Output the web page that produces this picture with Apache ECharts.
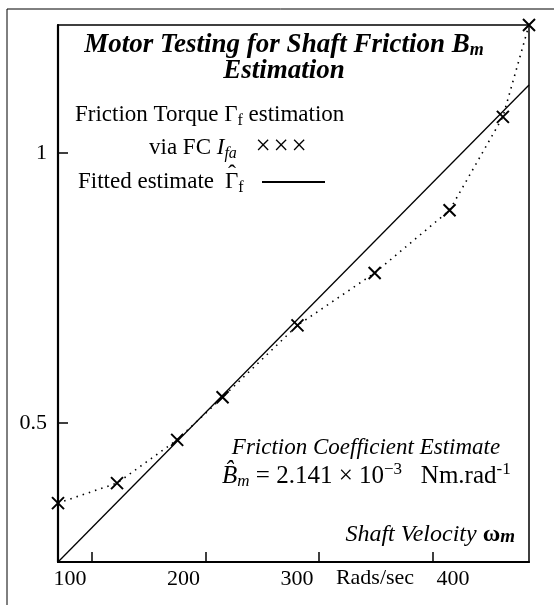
<!DOCTYPE html>
<html><head><meta charset="utf-8">
<script src="https://cdn.jsdelivr.net/npm/echarts@6/dist/echarts.min.js"></script>
<style>html,body{margin:0;padding:0;background:#fff}#c{width:554px;height:605px}</style>
</head><body><div id="c"></div>
<script>
// Shaft velocity (rad/s) and friction torque estimates (Nm)
const velocity = [70, 122, 175, 215, 281, 349, 415, 462, 485];
const frictionTorque = [0.352, 0.389, 0.469, 0.548, 0.681, 0.778, 0.894, 1.067, 1.237];
// Fitted line endpoints
const fitVelocity = [70, 485];
const fitTorque = [0.243, 1.126];
const xTicks = [100, 200, 300, 400];
const yTicks = [0.5, 1];

const F = 'Liberation Serif';
const chart = echarts.init(document.getElementById('c'), null, {renderer: 'canvas'});

function txt(x, y, text, rich, align, size, extra) {
  return {
    type: 'text', x: x, y: y, z: 100,
    style: Object.assign({text: text, rich: rich || undefined, align: align || 'left', verticalAlign: 'middle',
      fontFamily: F, fontSize: size || 23, fill: '#000'}, extra || {})
  };
}
const sub = o => Object.assign({fontFamily: F, fontSize: 16, padding: [11, 0, 0, 0]}, o || {});
const sup = o => Object.assign({fontFamily: F, fontSize: 16, padding: [0, 0, 13, 0]}, o || {});

chart.setOption({
  animation: false,
  grid: {left: 58, top: 25, right: 25, bottom: 43, show: true, borderColor: '#000', borderWidth: 1.5, backgroundColor: 'transparent'},
  xAxis: {
    type: 'value', min: 70, max: 485,
    axisLine: {lineStyle: {color: '#000', width: 2.2}},
    axisTick: {inside: true, length: 10, customValues: xTicks, lineStyle: {color: '#000', width: 1.5}},
    splitLine: {show: false},
    axisLabel: {
      customValues: xTicks, margin: 6, fontFamily: F, fontSize: 22, color: '#000',
      formatter: v => v === 400 ? '{r|' + v + '}' : '{l|' + v + '}',
      rich: {l: {fontFamily: F, fontSize: 22, padding: [0, 44, 0, 0]}, r: {fontFamily: F, fontSize: 22, padding: [0, 0, 0, 41]}}
    }
  },
  yAxis: {
    type: 'value', min: 0.243, max: 1.237,
    axisLine: {lineStyle: {color: '#000', width: 2.2}},
    axisTick: {inside: true, length: 10, customValues: yTicks, lineStyle: {color: '#000', width: 1.5}},
    splitLine: {show: false},
    axisLabel: {customValues: yTicks, margin: 11, fontFamily: F, fontSize: 22, color: '#000'}
  },
  series: [
    {
      type: 'line', data: fitVelocity.map((v, i) => [v, fitTorque[i]]),
      symbol: 'none', lineStyle: {color: '#000', width: 1.3}, z: 3
    },
    {
      type: 'line', data: velocity.map((v, i) => [v, frictionTorque[i]]),
      symbol: 'path://M0,0L10,10M10,0L0,10', symbolSize: 12,
      itemStyle: {color: 'rgba(0,0,0,0)', borderColor: '#000', borderWidth: 2},
      lineStyle: {color: '#000', width: 1.6, type: [1.5, 5]}, z: 4
    }
  ],
  graphic: [
    {type: 'line', z: 100, shape: {x1: 7, y1: 9, x2: 554, y2: 9}, style: {stroke: '#000', lineWidth: 1}},
    {type: 'line', z: 100, shape: {x1: 7, y1: 9, x2: 7, y2: 605}, style: {stroke: '#000', lineWidth: 1}},
    txt(284, 45, '{t|Motor Testing for Shaft Friction B}{s|m}', {
      t: {fontFamily: F, fontSize: 27, fontWeight: 'bold', fontStyle: 'italic'},
      s: {fontFamily: F, fontSize: 18, fontWeight: 'bold', fontStyle: 'italic', padding: [10, 0, 0, 0]}
    }, 'center'),
    txt(284, 71, '{t|Estimation}', {t: {fontFamily: F, fontSize: 27, fontWeight: 'bold', fontStyle: 'italic'}}, 'center'),
    txt(75, 115, '{a|Friction Torque Γ}{s|f}{a| estimation}', {a: {fontFamily: F, fontSize: 23}, s: sub()}),
    txt(149, 148, '{a|via FC }{i|I}{s|fa}', {a: {fontFamily: F, fontSize: 23}, i: {fontFamily: F, fontSize: 23, fontStyle: 'italic'},
      s: sub({fontStyle: 'italic'})}),
    txt(263, 147, '×', null, 'center', 27),
    txt(281, 147, '×', null, 'center', 27),
    txt(299, 147, '×', null, 'center', 27),
    txt(78, 182, 'Fitted estimate', null, 'left', 23),
    txt(225, 182, '{a|Γ}{s|f}', {a: {fontFamily: F, fontSize: 23}, s: sub()}),
    txt(232, 175, 'ˆ', null, 'center', 24),
    {type: 'line', z: 100, shape: {x1: 262, y1: 182, x2: 325, y2: 182}, style: {stroke: '#000', lineWidth: 2}},
    txt(366, 448, 'Friction Coefficient Estimate', null, 'center', 23, {fontStyle: 'italic'}),
    txt(222, 476, '{i|B̂}{s|m}{a| = 2.141 × 10}{p|−3}{a|   Nm.rad}{p|-1}', {
      a: {fontFamily: F, fontSize: 25}, i: {fontFamily: F, fontSize: 25, fontStyle: 'italic'},
      s: sub({fontStyle: 'italic', fontSize: 17}), p: sup({fontSize: 17})
    }),
    txt(515, 535, '{i|Shaft Velocity }{w|ω}{m|m}', {
      i: {fontFamily: F, fontSize: 24, fontStyle: 'italic'},
      w: {fontFamily: F, fontSize: 24, fontWeight: 'bold'},
      m: {fontFamily: F, fontSize: 19, fontWeight: 'bold', fontStyle: 'italic', padding: [4, 0, 0, 0]}
    }, 'right'),
    txt(375, 578, 'Rads/sec', null, 'center', 22)
  ]
});
</script></body></html>
